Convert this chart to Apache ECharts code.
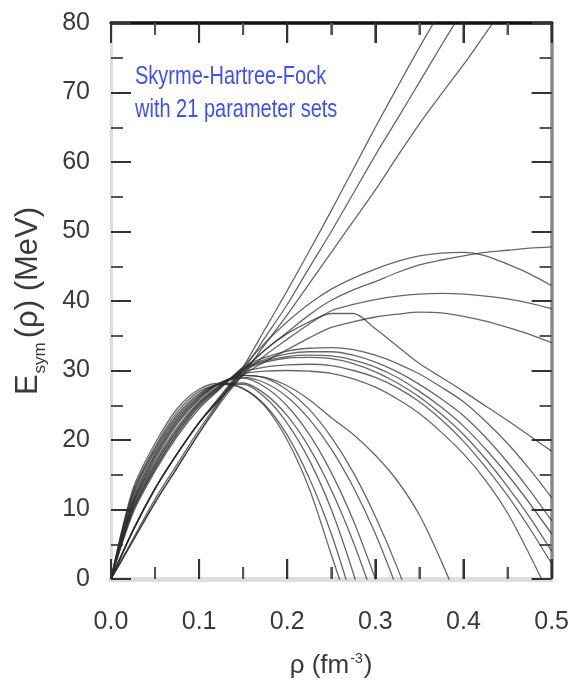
<!DOCTYPE html>
<html>
<head>
<meta charset="utf-8">
<script src="https://cdn.jsdelivr.net/npm/echarts@6/dist/echarts.min.js"></script>
<style>
  html, body { margin: 0; padding: 0; background: #fff; }
  #chart { width: 572px; height: 690px; }
</style>
</head>
<body>
<div id="chart"></div>
<script>
// Density grid (fm^-3) shared by every parameter set
const rho = [0, 0.025, 0.05, 0.075, 0.1, 0.125, 0.15, 0.175, 0.2, 0.225, 0.25,
             0.275, 0.3, 0.325, 0.35, 0.375, 0.4, 0.425, 0.45, 0.475, 0.5];

// Symmetry energy E_sym (MeV) for the 21 Skyrme parameter sets, sampled on rho
// stiff, nearly linear sets
const stiff1 = [0, 5.5, 11, 16, 21, 25.8, 30.5, 36, 41.5, 47.2, 53, 59, 65, 70.8, 76.5, 82, 88, null, null, null, null];
const stiff2 = [0, 5.8, 11.5, 16.5, 21.5, 26, 30, 34.8, 39.5, 44.8, 50, 55.5, 61, 66.2, 71.5, 76.8, 82, null, null, null, null];
const stiff3 = [0, 5.5, 11, 16, 21, 25.5, 29.5, 33.8, 38, 42.5, 47, 51.5, 56, 60.8, 65.5, 69.8, 74, 78.5, 83, null, null];
// sets that saturate at high density
const satA = [0, 7, 13, 18, 22.5, 26.5, 30.5, 34, 37, 39.6, 41.7, 43.3, 44.6, 45.7, 46.5, 46.9, 47, 46.5, 45.3, 43.9, 42.2];
const satB = [0, 7, 13, 18, 22.5, 26.3, 30, 33, 35.5, 38, 40.1, 41.6, 42.8, 44.1, 45.2, 45.9, 46.5, 47, 47.3, 47.6, 47.8];
const satC = [0, 7, 13, 18, 22.5, 26, 29.5, 32.2, 34.5, 36.7, 38.6, 39.5, 40.2, 40.7, 41, 41.1, 41, 40.7, 40.3, 39.7, 38.9];
const satD = [0, 7, 13, 18, 22.5, 26, 29.3, 31.3, 33, 34.7, 36.2, 37, 37.7, 38.1, 38.4, 38.3, 37.8, 37.1, 36.2, 35.2, 34];
const satE = [0, 7, 13, 18, 22.5, 26.3, 30, 33, 35.3, 37, 38.2, 38.2, 36, 33.5, 31, 29, 27, 24.9, 22.8, 20.6, 18.4];
// sets peaking near 2 rho_0
const mid1 = [0, 9.5, 15.5, 20.5, 24.5, 27.5, 30.5, 31.9, 32.8, 33.2, 33.3, 33, 32.2, 31, 29.5, 27.6, 25.5, 22.7, 19.5, 15.8, 11.7];
const mid2 = [0, 9.8, 15.8, 20.8, 24.8, 27.6, 30.3, 31.6, 32.4, 32.7, 32.7, 32.2, 31.2, 29.8, 28, 25.9, 23.5, 20.4, 16.8, 12.8, 8.4];
const mid3 = [0, 10, 16, 21, 25, 27.7, 30.2, 31.4, 32, 32.2, 32.1, 31.5, 30.5, 29, 27, 24.7, 22, 18.7, 15, 10.9, 6.5];
const mid4 = [0, 10.2, 16.3, 21.3, 25.2, 27.8, 30, 31.2, 31.8, 31.9, 31.7, 31, 29.8, 28.2, 26.2, 23.7, 20.8, 17.3, 13.3, 8.9, 4];
const mid5 = [0, 10.5, 16.5, 21.5, 25.3, 27.9, 29.8, 30.5, 30.8, 30.9, 30.7, 30, 29, 27.5, 25.5, 22.9, 19.8, 16.1, 12, 7.3, 2.2];
const mid6 = [0, 10.8, 16.8, 21.8, 25.5, 28, 29.5, 29.9, 30, 29.9, 29.6, 28.8, 27.6, 25.9, 23.8, 21.1, 18, 14.2, 9.5, 3.5, -3];
// soft sets that turn negative below 0.4 fm^-3
const soft1 = [0, 13, 19.5, 24.5, 27.3, 28.2, 27.4, 24.8, 20, 13, 3.5, -6, null, null, null, null, null, null, null, null, null];
const soft2 = [0, 12.6, 19, 24, 27, 28, 27.4, 25, 20.7, 14.5, 6.5, -3.5, null, null, null, null, null, null, null, null, null];
const soft3 = [0, 12.3, 18.7, 23.6, 26.7, 28, 28, 26.1, 22.4, 17.1, 10, 0.8, -10, null, null, null, null, null, null, null, null];
const soft4 = [0, 12, 18.4, 23.3, 26.5, 28.1, 28.2, 26.6, 23.5, 18.9, 12.8, 5.3, -3.5, null, null, null, null, null, null, null, null];
const soft5 = [0, 11.6, 18, 23, 26.3, 28.2, 28.9, 27.6, 24.9, 20.8, 15.3, 8.4, 0, -9, null, null, null, null, null, null, null];
const soft6 = [0, 11.3, 17.8, 22.8, 26.2, 28.3, 29, 28.2, 26.2, 23, 18.7, 13.2, 6.5, -1.5, null, null, null, null, null, null, null];
const soft7 = [0, 11, 17.5, 22.5, 26, 28.3, 29.3, 28.9, 27.2, 24.4, 20.4, 15.3, 9, 1.6, -7, null, null, null, null, null, null];
const soft8 = [0, 10.8, 17.2, 22.3, 25.8, 28.2, 29.3, 29, 27.8, 25.8, 23.2, 20.8, 17.8, 14.1, 9.2, 2.5, -5, null, null, null, null];

const parameterSets = [stiff1, stiff2, stiff3, satA, satB, satC, satD, satE,
  mid1, mid2, mid3, mid4, mid5, mid6,
  soft1, soft2, soft3, soft4, soft5, soft6, soft7, soft8];

// Axis ticks
const xTicks = [0.0, 0.1, 0.2, 0.3, 0.4, 0.5];
const xMinorTicks = [0.05, 0.15, 0.25, 0.35, 0.45];
const yTicks = [0, 10, 20, 30, 40, 50, 60, 70, 80];

const sans = "'Liberation Sans', Arial, sans-serif";
const ink = '#3a3a3a';

const gridBox = { left: 111, right: 20, top: 23, bottom: 111 };
const chartHeight = 690;
const yMin = yTicks[0], yMax = yTicks[yTicks.length - 1];
// tick lengths in pixels, converted to E units along the vertical scale
const unitsPerPx = (yMax - yMin) / (chartHeight - gridBox.top - gridBox.bottom);
const majorLen = 20 * unitsPerPx, minorLen = 12 * unitsPerPx;

// Frame axis: inward major ticks every step, minor ticks half-way
function axisX(pos, color, w) {
  return { type: 'value', position: pos, min: xTicks[0], max: xTicks[xTicks.length - 1], interval: 0.1,
    axisLine: { show: true, onZero: false, lineStyle: { color: color, width: w } },
    axisTick: { show: true, inside: true, length: 20, lineStyle: { color: '#333', width: 2 } },
    minorTick: { show: true, splitNumber: 2, length: 12, lineStyle: { color: '#555', width: 2 } },
    splitLine: { show: false }, axisLabel: { show: false } };
}
function axisY(pos, color, w) {
  return { type: 'value', position: pos, min: yMin, max: yMax, interval: 10,
    axisLine: { show: true, onZero: false, lineStyle: { color: color, width: w } },
    axisTick: { show: true, inside: true, length: 20, lineStyle: { color: '#333', width: 2 } },
    minorTick: { show: true, splitNumber: 2, length: 12, lineStyle: { color: '#555', width: 2 } },
    splitLine: { show: false }, axisLabel: { show: false } };
}

const xBottom = axisX('bottom', '#dedede', 5);
xBottom.axisLabel = { show: true, margin: 31, color: ink, fontSize: 25, fontFamily: sans,
  formatter: function (v) { return v.toFixed(1); } };
const xTop = axisX('top', '#111', 3.5);

const yLeft = axisY('left', '#dcdcdc', 3);
yLeft.axisLabel = { show: true, margin: 21, color: ink, fontSize: 25, fontFamily: sans };
yLeft.name = '{t|E}{s|sym}{t|(ρ) (MeV)}';
yLeft.nameLocation = 'middle';
yLeft.nameRotate = 90;
yLeft.nameGap = 62;
yLeft.nameTextStyle = {
  color: ink,
  rich: {
    t: { fontSize: 31, fontFamily: sans, color: ink, verticalAlign: 'top', lineHeight: 36 },
    s: { fontSize: 17, fontFamily: sans, color: ink, verticalAlign: 'bottom', lineHeight: 36, padding: [0, 4, 0, 1] }
  }
};
const yRight = axisY('right', '#8a8a8a', 3.5);

const series = parameterSets.map(function (vals) {
  return {
    type: 'line',
    data: rho.map(function (r, i) { return [r, vals[i]]; }),
    showSymbol: false,
    smooth: 0.3,
    lineStyle: { color: 'rgba(45,45,45,0.72)', width: 1.3 }
  };
});

// Inward tick marks on the bottom and top frame lines, one short segment each
function addTick(v, len, color) {
  [[yMin, yMin + len], [yMax, yMax - len]].forEach(function (ends) {
    series.push({
      type: 'line',
      data: [[v, ends[0]], [v, ends[1]]],
      showSymbol: false,
      lineStyle: { color: color, width: 2 }
    });
  });
}
xTicks.forEach(function (v) { addTick(v, majorLen, '#333'); });
xMinorTicks.forEach(function (v) { addTick(v, minorLen, '#555'); });

const chart = echarts.init(document.getElementById('chart'));
chart.setOption({
  animation: false,
  grid: gridBox,
  xAxis: [xBottom, xTop],
  yAxis: [yLeft, yRight],
  series: series,
  graphic: [{
    type: 'text', left: 135, top: 60, silent: true,
    scaleY: 1.3,
    style: {
      text: 'Skyrme-Hartree-Fock\nwith 21 parameter sets',
      fill: '#3f52f0',
      font: '20px ' + sans,
      lineHeight: 25.5
    }
  }, {
    type: 'text', silent: true,
    x: 331, y: 652,
    style: {
      rich: {
        t: { fontSize: 26, fontFamily: sans, fill: ink },
        s: { fontSize: 14, fontFamily: sans, fill: ink, padding: [0, 1, 14, 1] }
      },
      text: '{t|ρ (fm}{s|-3}{t|)}',
      align: 'center',
      verticalAlign: 'top'
    }
  }]
});
</script>
</body>
</html>
